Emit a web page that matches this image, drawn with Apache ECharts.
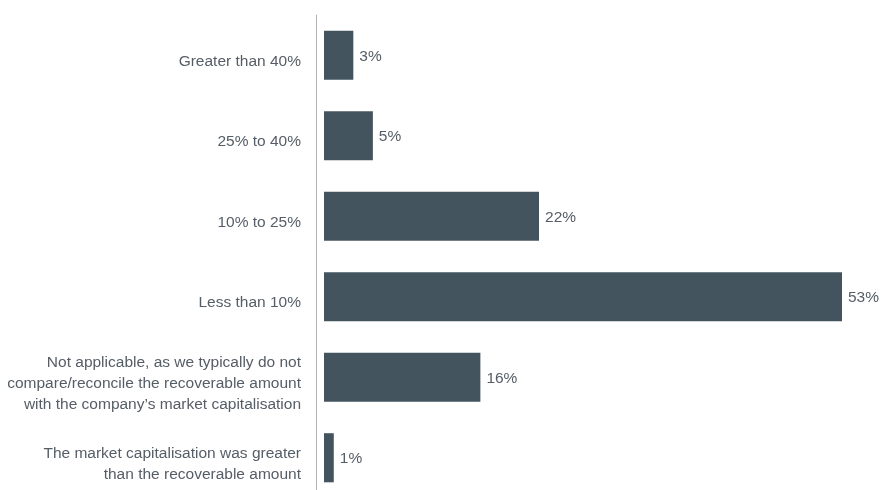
<!DOCTYPE html>
<html>
<head>
<meta charset="utf-8">
<style>
  html, body { margin: 0; padding: 0; background: #ffffff; }
  #chart { width: 881px; height: 490px; }
</style>
<script src="https://cdn.jsdelivr.net/npm/echarts@6/dist/echarts.min.js"></script>
</head>
<body>
<div id="chart"></div>
<script>
// Survey responses: gap between recoverable amount and market capitalisation
const categories = [
  'Greater than 40%',
  '25% to 40%',
  '10% to 25%',
  'Less than 10%',
  'Not applicable, as we typically do not\ncompare/reconcile the recoverable amount\nwith the company\u2019s market capitalisation',
  'The market capitalisation was greater\nthan the recoverable amount'
];
const shares = [3, 5, 22, 53, 16, 1];

const textColor = '#555d66';
const barColor = '#44545e';
const fontFamily = '"Liberation Sans", Arial, Helvetica, sans-serif';

const chart = echarts.init(document.getElementById('chart'), null, { renderer: 'canvas' });
chart.setOption({
  animation: false,
  backgroundColor: '#ffffff',
  grid: {
    left: 324, width: 518, top: 15, height: 483,
    containLabel: false,
    outerBoundsMode: 'none'
  },
  xAxis: {
    type: 'value',
    min: 0,
    max: 53,
    show: false
  },
  yAxis: {
    type: 'category',
    inverse: true,
    data: categories,
    offset: 8,
    axisLine: { show: true, onZero: false, lineStyle: { color: '#b4b4b4', width: 1 } },
    axisTick: { show: false },
    axisLabel: { show: false }
  },
  series: [
    {
      // category captions, anchored at the start of each band row
      type: 'bar',
      data: categories.map(() => 0),
      barWidth: '61%',
      silent: true,
      itemStyle: { color: 'rgba(0,0,0,0)' },
      label: {
        show: true,
        position: 'left',
        distance: 23,
        offset: [0, 6],
        align: 'right',
        color: textColor,
        fontFamily: fontFamily,
        fontSize: 15.5,
        lineHeight: 21,
        formatter: p => categories[p.dataIndex]
      },
      z: 1
    },
    {
      type: 'bar',
      data: shares,
      barWidth: '61%',
      barGap: '-100%',
      itemStyle: { color: barColor },
      label: {
        show: true,
        position: 'right',
        distance: 6,
        offset: [0, 1],
        color: textColor,
        fontFamily: fontFamily,
        fontSize: 15.5,
        formatter: p => p.value + '%'
      },
      z: 2
    }
  ]
});
</script>
</body>
</html>
